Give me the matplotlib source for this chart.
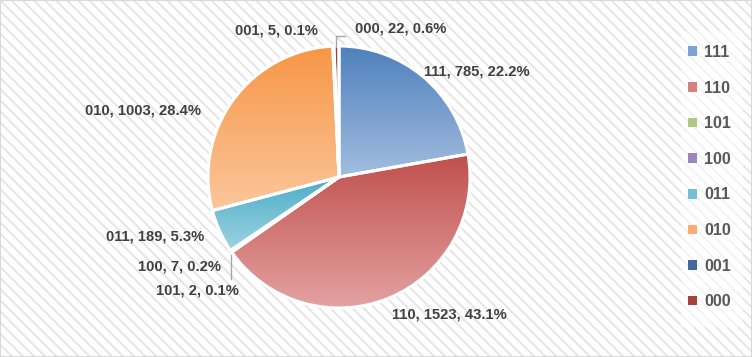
import matplotlib
matplotlib.use('Agg')
import matplotlib.pyplot as plt
import numpy as np
from matplotlib.colors import LinearSegmentedColormap
from matplotlib.patches import Rectangle

# data
names = ['111', '110', '101', '100', '011', '010', '001', '000']
counts = [785, 1523, 2, 7, 189, 1003, 5, 22]
pcts = ['22.2%', '43.1%', '0.1%', '0.2%', '5.3%', '28.4%', '0.1%', '0.6%']

# gradient colours per slice (top, bottom)
tops = ['#4f81bd', '#c0504d', '#9bbb59', '#8064a2', '#4bacc6', '#f79646', '#3a64a0', '#98403d']
bottoms = ['#a3bde0', '#e3a2a1', '#c3d69b', '#b3a2c7', '#9dd3e2', '#fbc79c', '#5b86c0', '#c0504d']
legend_cols = ['#7ea2d2', '#d77f7d', '#b0c97d', '#9a86b8', '#73c0d6', '#f9ad72', '#44699d', '#a8413e']

# label layout (data units, pie radius = 1)
label_pos = [(1.053, 0.809), (0.840, -1.046), (-1.084, -0.863), (-1.218, -0.687),
             (-1.405, -0.458), (-1.496, 0.504), (-0.481, 1.122), (0.469, 1.130)]

FONT = ['Liberation Sans', 'DejaVu Sans']

plt.rcParams['hatch.linewidth'] = 1.3
plt.rcParams['hatch.color'] = '#e4e4e4'

fig = plt.figure(figsize=(7.52, 3.57), dpi=100)
ax = fig.add_axes([0, 0, 1, 1])
R = 131.0
cx, cy = 339.0, 177.0

def set_view():
    ax.set_xlim(-cx / R, (752 - cx) / R)
    ax.set_ylim((cy - 357) / R, cy / R)
    ax.set_aspect('equal')
    ax.axis('off')

bg = Rectangle((0, 0), 1, 1, transform=ax.transAxes, facecolor='white',
               hatch='\\\\\\', edgecolor='#e4e4e4', lw=0, zorder=0)
ax.add_patch(bg)

wedges, _ = ax.pie(counts, startangle=90, counterclock=False, radius=1,
                   colors=legend_cols, wedgeprops=dict(linewidth=0, zorder=1),
                   frame=True)
set_view()

for w, t, b in zip(wedges, tops, bottoms):
    ext = w.get_path().get_extents()
    cmap = LinearSegmentedColormap.from_list('g', [b, t])
    grad = np.linspace(0, 1, 256).reshape(-1, 1)
    im = ax.imshow(grad, cmap=cmap, origin='lower', aspect='auto',
                   extent=[ext.x0, ext.x1, ext.y0, ext.y1], zorder=2)
    im.set_clip_path(w)

ax.pie(counts, startangle=90, counterclock=False, radius=1, colors=['none'] * len(counts),
       wedgeprops=dict(linewidth=2.2, edgecolor='white', zorder=3), frame=True)
set_view()

for n, c, p, (x, y) in zip(names, counts, pcts, label_pos):
    ax.text(x, y, '%s, %d, %s' % (n, c, p), ha='center', va='center',
            fontsize=10.6, fontweight='bold', color='#404040',
            family=FONT, zorder=5)

# leader lines
ax.plot([-0.023, -0.023, 0.046], [0.99, 1.076, 1.076], color='#a6a6a6', lw=1, zorder=4)
ax.plot([-0.824, -0.824], [-0.595, -0.779], color='#a6a6a6', lw=1, zorder=4)

# legend area
ax.add_patch(Rectangle((681 / 752, 30 / 357), 62 / 752, 296 / 357, transform=ax.transAxes,
                       facecolor='white', alpha=0.55, lw=0, zorder=4))
leg = ax.legend(wedges, names, loc='center left', bbox_to_anchor=(688 / 752, 0.504),
                frameon=False, labelspacing=1.29, handlelength=0.55,
                handleheight=0.55, handletextpad=0.45, borderpad=0, borderaxespad=0,
                prop=dict(family=FONT, size=11.5, weight='bold'))
for txt in leg.get_texts():
    txt.set_color('#595959')

fig.patches.append(Rectangle((0, 0), 1, 1, transform=fig.transFigure, fill=False,
                             edgecolor='#d9d9d9', lw=1.5))

fig.savefig('out.png', dpi=100)
